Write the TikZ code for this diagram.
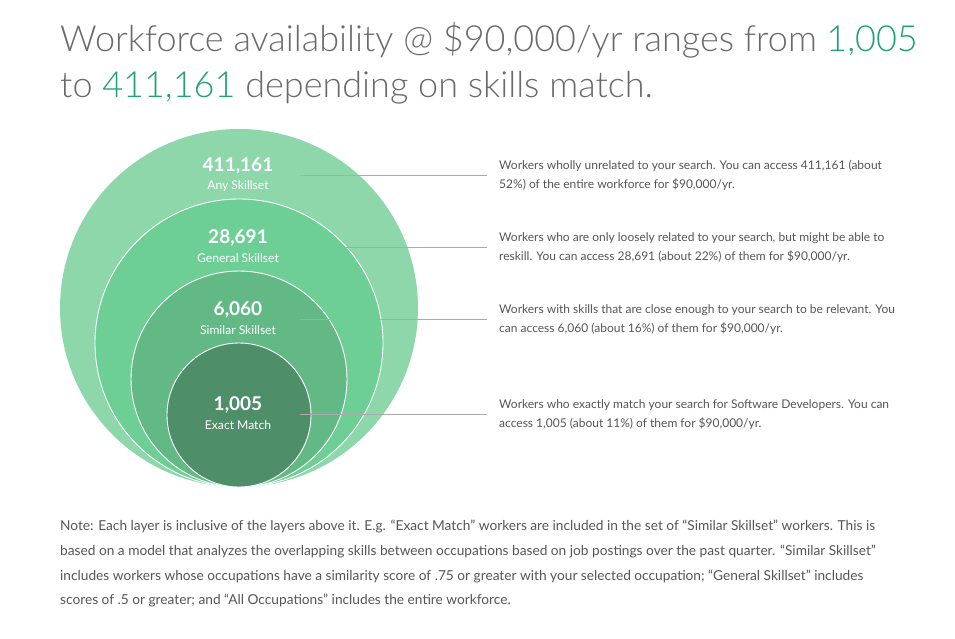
\documentclass[tikz,border=0pt]{standalone}
\usepackage{fontspec}
\setmainfont{Lato}
\newfontfamily\lightfont{Lato Light}
\definecolor{cAny}{HTML}{8DD7AA}
\definecolor{cGen}{HTML}{6DCE96}
\definecolor{cSim}{HTML}{62B985}
\definecolor{cEx}{HTML}{4E8F69}
\definecolor{titlegray}{HTML}{6A6A6A}
\definecolor{titlegreen}{HTML}{1FA07A}
\definecolor{txtgray}{HTML}{555555}
\definecolor{linegray}{HTML}{AAAAAA}
\tikzset{
  ring/.style={circle, inner sep=0pt, draw=white, line width=0.9pt},
  bignum/.style={font=\fontsize{19}{21}\selectfont\bfseries, text=white, inner sep=0pt},
  sublabel/.style={font=\fontsize{12.1}{14}\selectfont, text=white, inner sep=0pt},
  desc/.style={font=\fontsize{12}{19.6}\selectfont, text=txtgray, align=left, anchor=west, inner sep=0pt},
  leader/.style={draw=linegray, line width=0.7pt, shorten >=12pt},
  noteline/.style={font=\fontsize{13.7}{15}\selectfont, text=txtgray, anchor=base west, inner sep=0pt},
  titleline/.style={font=\lightfont\fontsize{36}{40}\selectfont, text=titlegray, anchor=base west, inner sep=0pt}
}
\begin{document}
\begin{tikzpicture}[x=1pt,y=-1pt]
\useasboundingbox (0,0) rectangle (955,638);
% circles
\node[ring, draw=none, fill=cAny, minimum size=358pt] (any) at (239,308) {};
\node[ring, fill=cGen, minimum size=288pt] (gen) at (239,343) {};
\node[ring, fill=cSim, minimum size=216pt] (sim) at (239,379) {};
\node[ring, fill=cEx, minimum size=144pt] (ex) at (239,415) {};
% labels
\node[bignum] (n1) at (238,166) {411,161};
\node[sublabel] (s1) at (238,186) {Any Skillset};
\node[bignum] (n2) at (238,238) {28,691};
\node[sublabel] (s2) at (238,258) {General Skillset};
\node[bignum] (n3) at (238,310) {6,060};
\node[sublabel] (s3) at (238,330) {Similar Skillset};
\node[bignum] (n4) at (238,405) {1,005};
\node[sublabel] (s4) at (238,425) {Exact Match};
% leader start points
\coordinate (p1) at (300,175);
\coordinate (p2) at (300,247);
\coordinate (p3) at (300,319);
\coordinate (p4) at (300,414);
% descriptions
\node[desc] (t1) at (499,175.5) {Workers wholly unrelated to your search. You can access 411,161 (about\\52\%) of the entire workforce for \$90,000/yr.};
\node[desc] (t2) at (499,247.5) {Workers who are only loosely related to your search, but might be able to\\reskill. You can access 28,691 (about 22\%) of them for \$90,000/yr.};
\node[desc] (t3) at (499,319.5) {Workers with skills that are close enough to your search to be relevant. You\\can access 6,060 (about 16\%) of them for \$90,000/yr.};
\node[desc] (t4) at (499,414.5) {Workers who exactly match your search for Software Developers. You can\\access 1,005 (about 11\%) of them for \$90,000/yr.};
\draw[leader] (p1) -- (t1.west |- p1);
\draw[leader] (p2) -- (t2.west |- p2);
\draw[leader] (p3) -- (t3.west |- p3);
\draw[leader] (p4) -- (t4.west |- p4);
% title
\node[titleline] (title1) at (60,51) {Workforce availability @ \$90,000/yr ranges from \textcolor{titlegreen}{1,005}};
\node[titleline] (title2) at (60,97) {to \textcolor{titlegreen}{411,161} depending on skills match.};
% note
\node[noteline] (note1) at (60,530.5) {Note: Each layer is inclusive of the layers above it. E.g. “Exact Match” workers are included in the set of “Similar Skillset” workers. This is};
\node[noteline] (note2) at (60,555.3) {based on a model that analyzes the overlapping skills between occupations based on job postings over the past quarter. “Similar Skillset”};
\node[noteline] (note3) at (60,580.1) {includes workers whose occupations have a similarity score of .75 or greater with your selected occupation; “General Skillset” includes};
\node[noteline] (note4) at (60,604.9) {scores of .5 or greater; and “All Occupations” includes the entire workforce.};
\end{tikzpicture}
\end{document}
